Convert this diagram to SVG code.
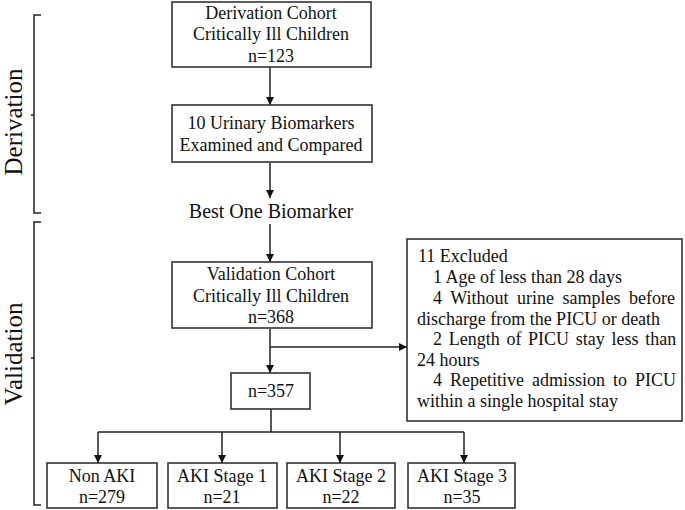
<svg xmlns="http://www.w3.org/2000/svg" width="685" height="510" viewBox="0 0 685 510">
<defs>
<style>
.box{fill:#fff;stroke:#333;stroke-width:1.6}
.t{font-family:"Liberation Serif","Times New Roman",serif;font-size:18px;fill:#111;text-anchor:middle}
.l{font-family:"Liberation Serif","Times New Roman",serif;font-size:18px;fill:#111}
.side{font-family:"Liberation Serif","Times New Roman",serif;font-size:25px;fill:#111;text-anchor:middle}
.c{fill:none;stroke:#222;stroke-width:1.5}
</style>
<marker id="ah" viewBox="0 0 10 10" refX="10" refY="5" markerWidth="8" markerHeight="8" markerUnits="userSpaceOnUse" orient="auto">
<path d="M0,0 L10,5 L0,10 Z" fill="#111"/>
</marker>
</defs>
<rect width="685" height="510" fill="#fff"/>

<g id="brackets">
<path class="c" d="M41,15 H34 V213 H41 M31,115 H34"/>
<path class="c" d="M41,222 H34 V505 H41 M31,358 H34"/>
</g>
<g id="label-derivation"><text class="side" transform="translate(22,122) rotate(-90)">Derivation</text></g>
<g id="label-validation"><text class="side" transform="translate(22,354) rotate(-90)">Validation</text></g>

<g id="connectors">
<path class="c" d="M270,67 V105" marker-end="url(#ah)"/>
<path class="c" d="M270,163 V198" marker-end="url(#ah)"/>
<path class="c" d="M270,224 V262" marker-end="url(#ah)"/>
<path class="c" d="M270,329 V373" marker-end="url(#ah)"/>
<path class="c" d="M270,347 H407" marker-end="url(#ah)"/>
<path class="c" d="M271,409 V432 M98,432 H464"/>
<path class="c" d="M98,432 V463" marker-end="url(#ah)"/>
<path class="c" d="M222,432 V463" marker-end="url(#ah)"/>
<path class="c" d="M340,432 V463" marker-end="url(#ah)"/>
<path class="c" d="M464,432 V463" marker-end="url(#ah)"/>
</g>

<g id="derivation-cohort">
<rect class="box" x="172" y="2" width="199" height="65"/>
<text class="t" x="271" y="19">Derivation Cohort</text>
<text class="t" x="271" y="40">Critically Ill Children</text>
<text class="t" x="271" y="62">n=123</text>
</g>
<g id="biomarkers">
<rect class="box" x="172" y="105" width="200" height="57"/>
<text class="t" x="271" y="129">10 Urinary Biomarkers</text>
<text class="t" x="271" y="151">Examined and Compared</text>
</g>
<g id="best-one">
<text class="t" x="271" y="218" style="font-size:20px">Best One Biomarker</text>
</g>
<g id="validation-cohort">
<rect class="box" x="172" y="262" width="200" height="66"/>
<text class="t" x="271" y="280">Validation Cohort</text>
<text class="t" x="271" y="302">Critically Ill Children</text>
<text class="t" x="271" y="323">n=368</text>
</g>
<g id="n357">
<rect class="box" x="231" y="373" width="79" height="36"/>
<text class="t" x="271" y="397">n=357</text>
</g>
<g id="excluded">
<rect class="box" x="407" y="239" width="275" height="182"/>
<text class="l" x="418" y="262">11 Excluded</text>
<text class="l" x="433" y="283">1 Age of less than 28 days</text>
<text class="l" x="433" y="304" word-spacing="4">4 Without urine samples before</text>
<text class="l" x="417" y="325">discharge from the PICU or death</text>
<text class="l" x="433" y="345" word-spacing="2.2">2 Length of PICU stay less than</text>
<text class="l" x="417" y="366">24 hours</text>
<text class="l" x="433" y="386" word-spacing="3.5">4 Repetitive admission to PICU</text>
<text class="l" x="417" y="407">within a single hospital stay</text>
</g>
<g id="non-aki">
<rect class="box" x="47" y="463" width="110" height="45"/>
<text class="t" x="102" y="482">Non AKI</text>
<text class="t" x="102" y="503">n=279</text>
</g>
<g id="aki-1">
<rect class="box" x="168" y="463" width="109" height="45"/>
<text class="t" x="222" y="482">AKI Stage 1</text>
<text class="t" x="222" y="503">n=21</text>
</g>
<g id="aki-2">
<rect class="box" x="287" y="463" width="108" height="45"/>
<text class="t" x="341" y="482">AKI Stage 2</text>
<text class="t" x="341" y="503">n=22</text>
</g>
<g id="aki-3">
<rect class="box" x="408" y="463" width="107" height="45"/>
<text class="t" x="462" y="482">AKI Stage 3</text>
<text class="t" x="462" y="503">n=35</text>
</g>
</svg>
